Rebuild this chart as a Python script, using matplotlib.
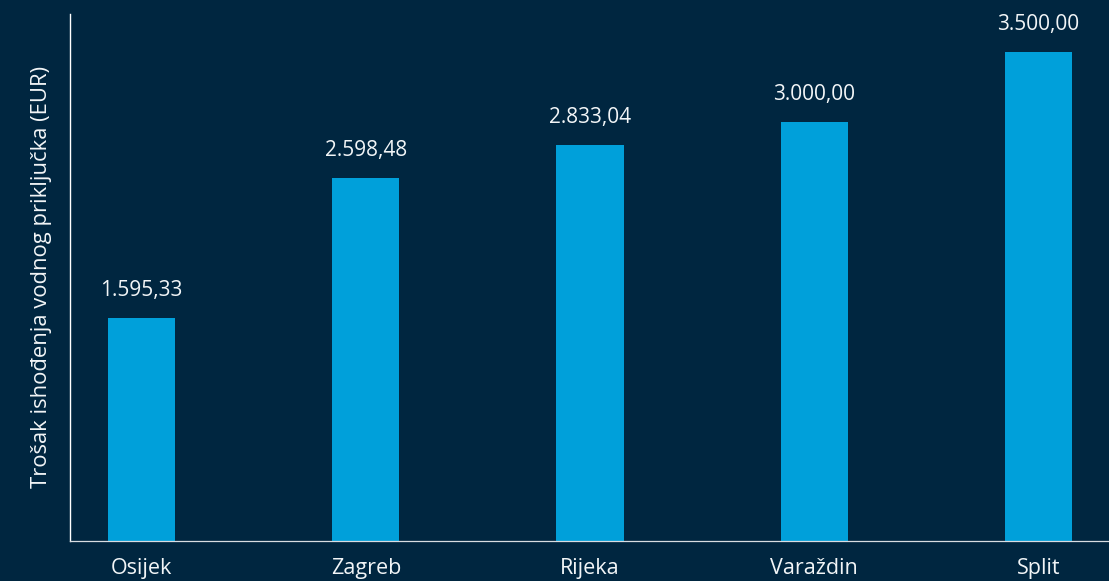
import matplotlib.pyplot as plt
import numpy as np

cities = ["Osijek", "Zagreb", "Rijeka", "Varaždin", "Split"]
costs = [1595.33, 2598.48, 2833.04, 3000.00, 3500.00]
value_labels = ["1.595,33", "2.598,48", "2.833,04", "3.000,00", "3.500,00"]
y_label = "Trošak ishođenja vodnog priključka (EUR)"

BG = "#002640"
BAR = "#00A0DA"
FG = "#F2F5F7"

plt.rcParams["font.family"] = ["Open Sans", "DejaVu Sans"]

W, H = 1109, 581
fig = plt.figure(figsize=(W / 100, H / 100), dpi=100, facecolor=BG)
ax = fig.add_axes([70 / W, 40 / H, 1040 / W, 527.5 / H], facecolor=BG)

x = np.arange(len(cities))
bars = ax.bar(x, costs, width=0.30, color=BAR)

for rect, lab in zip(bars, value_labels):
    ax.annotate(lab, (rect.get_x() + rect.get_width() / 2, rect.get_height()),
                xytext=(0, 16), textcoords="offset points",
                ha="center", va="baseline", color=FG, fontsize=15)

ax.set_xlim(-0.32, 4.32)
ax.set_ylim(0, 3776)
ax.set_xticks(x)
ax.set_xticklabels(cities, fontsize=15.5, color=FG)
ax.tick_params(axis="x", length=0, pad=12)
ax.set_yticks([])
ax.set_ylabel(y_label, fontsize=15.8, color=FG, labelpad=13)

for s in ["top", "right"]:
    ax.spines[s].set_visible(False)
ax.spines["left"].set_color("white")
ax.spines["left"].set_linewidth(1.0)
ax.spines["bottom"].set_color("#D8DDE2")
ax.spines["bottom"].set_linewidth(0.9)

fig.savefig("out.png", dpi=100, facecolor=BG)
